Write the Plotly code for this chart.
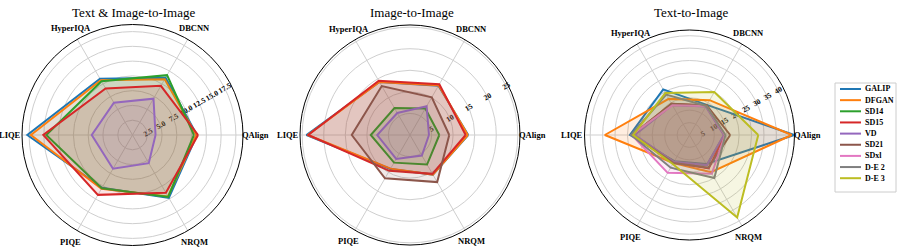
import math
import plotly.graph_objects as go

CATEGORIES = ["QAlign", "DBCNN", "HyperIQA", "LIQE", "PIQE", "NRQM"]
MODELS = ["GALIP", "DFGAN", "SD14", "SD15", "VD", "SD21", "SDxl", "D-E 2", "D-E 3"]
COLORS = ["#1f77b4", "#ff7f0e", "#2ca02c", "#d62728", "#9467bd",
          "#8c564b", "#e377c2", "#7f7f7f", "#bcbd22"]

TITLES = ["Text & Image-to-Image", "Image-to-Image", "Text-to-Image"]

# Text & Image-to-Image
TI2I = {
    "GALIP": [10.9, 11.2, 11.0, 17.8, 10.3, 12.3],
    "DFGAN": [10.8, 10.9, 10.7, 17.2, 10.5, 12.0],
    "SD14":  [10.4, 11.7, 10.5, 14.6, 10.4, 12.1],
    "SD15":  [11.1, 9.6, 9.1, 15.1, 11.7, 11.3],
    "VD":    [3.9, 7.1, 6.3, 6.9, 6.6, 5.5],
}
# Image-to-Image
I2I = {
    "GALIP": [13.5, 13.2, 14.2, 24.0, 9.1, 10.6],
    "DFGAN": [13.4, 13.3, 14.2, 23.7, 9.0, 10.6],
    "SD14":  [6.8, 7.1, 7.2, 9.1, 7.4, 7.9],
    "SD15":  [12.9, 13.6, 14.5, 23.6, 9.6, 10.4],
    "VD":    [4.4, 7.7, 5.9, 7.6, 6.4, 5.5],
    "SD21":  [9.1, 10.1, 13.1, 13.5, 11.6, 12.6],
}
# Text-to-Image
T2I = {
    "GALIP": [42.2, 14.0, 21.2, 24.0, 12.2, 13.5],
    "DFGAN": [41.2, 16.2, 16.8, 34.1, 13.0, 17.3],
    "SD14":  [14.0, 13.5, 14.0, 22.5, 12.5, 14.0],
    "SD15":  [14.2, 13.6, 14.5, 23.0, 12.8, 15.5],
    "VD":    [13.8, 13.2, 14.0, 22.0, 12.5, 14.0],
    "SD21":  [16.4, 13.8, 14.5, 23.0, 13.0, 15.2],
    "SDxl":  [14.3, 13.5, 13.8, 23.3, 17.6, 18.0],
    "D-E 2": [14.5, 13.5, 18.8, 23.5, 15.2, 20.0],
    "D-E 3": [27.7, 20.0, 19.5, 22.7, 13.5, 38.4],
}

R_TICKS_1 = [2.5, 5.0, 7.5, 10.0, 12.5, 15.0, 17.5]
R_TEXT_1 = ["2.5", "5.0", "7.5", "10.0", "12.5", "15.0", "17.5"]
R_TICKS_2 = [5, 10, 15, 20, 25]
R_TEXT_2 = ["5", "10", "15", "20", "25"]
R_TICKS_3 = [5, 10, 15, 20, 25, 30, 35, 40]
R_TEXT_3 = ["5", "10", "15", "20", "25", "30", "35", "40"]

R_MAX = [18.7, 25.5, 42.3]

W, H = 897, 247
FONT = "Liberation Serif, Times New Roman, serif"
FILL_ALPHA = 0.13


def rgba(hexc, a):
    h = hexc.lstrip("#")
    r, g, b = int(h[0:2], 16), int(h[2:4], 16), int(h[4:6], 16)
    return f"rgba({r},{g},{b},{a})"


fig = go.Figure()
datasets = [TI2I, I2I, T2I]
polars = ["polar", "polar2", "polar3"]
for i, data in enumerate(datasets):
    for m, c in zip(MODELS, COLORS):
        if m not in data:
            continue
        vals = data[m]
        fig.add_trace(go.Scatterpolar(
            r=vals + vals[:1],
            theta=CATEGORIES + CATEGORIES[:1],
            mode="lines",
            fill="toself",
            fillcolor=rgba(c, FILL_ALPHA),
            line=dict(color=c, width=2),
            name=m,
            legendgroup=m,
            showlegend=False,
            subplot=polars[i],
        ))

# subplot boxes in pixels: (cx, cy, radius)
boxes = [(132.5, 135, 110.5), (410, 135, 110), (689.5, 135, 105)]
ticks = [(R_TICKS_1, R_TEXT_1), (R_TICKS_2, R_TEXT_2), (R_TICKS_3, R_TEXT_3)]

annotations = []
layout_polars = {}
for i, (cx, cy, rad) in enumerate(boxes):
    xd = [(cx - rad) / W, (cx + rad) / W]
    yd = [1 - (cy + rad) / H, 1 - (cy - rad) / H]
    tv, tt = ticks[i]
    layout_polars[polars[i]] = dict(
        domain=dict(x=xd, y=yd),
        bgcolor="white",
        radialaxis=dict(
            range=[0, R_MAX[i]],
            tickvals=tv,
            ticktext=tt,
            angle=30,
            tickangle=0,
            showline=False,
            ticks="",
            gridcolor="#cfcfcf",
            gridwidth=1,
            layer="below traces",
            tickfont=dict(family=FONT, size=7.5, color="black", weight="bold"),
        ),
        angularaxis=dict(
            rotation=0,
            direction="counterclockwise",
            categoryorder="array",
            categoryarray=CATEGORIES,
            showline=True,
            linecolor="black",
            linewidth=1,
            gridcolor="#cfcfcf",
            gridwidth=1,
            ticks="",
            showticklabels=False,
            layer="below traces",
        ),
    )
    # category labels centred just outside the rim (matplotlib-style placement)
    n = len(CATEGORIES)
    for k, cat in enumerate(CATEGORIES):
        ang = math.radians(360.0 * k / n)
        lx = cx + (rad + 12.5) * math.cos(ang)
        ly = cy - (rad + 12.5) * math.sin(ang)
        annotations.append(dict(
            text=cat, x=lx / W, y=1 - ly / H, xref="paper", yref="paper",
            showarrow=False, xanchor="center", yanchor="middle",
            font=dict(family=FONT, size=8.5, color="black", weight="bold"),
        ))

title_x = [133, 412, 691]
for t, x in zip(TITLES, title_x):
    annotations.append(dict(
        text=t, x=x / W, y=1 - 13 / H, xref="paper", yref="paper",
        showarrow=False, xanchor="center", yanchor="middle",
        font=dict(family=FONT, size=13, color="black"),
    ))

# hand-built legend (compact row spacing like the reference)
shapes = []
LEG_X0, LEG_X1, LEG_Y0, LEG_Y1 = 835, 896, 83, 192
shapes.append(dict(type="rect", xref="paper", yref="paper",
                   x0=LEG_X0 / W, x1=LEG_X1 / W,
                   y0=1 - LEG_Y1 / H, y1=1 - LEG_Y0 / H,
                   line=dict(color="#cccccc", width=1), fillcolor="white",
                   layer="above"))
for k, (m, c) in enumerate(zip(MODELS, COLORS)):
    yy = 89 + 11.15 * k
    shapes.append(dict(type="line", xref="paper", yref="paper",
                       x0=840 / W, x1=861 / W, y0=1 - yy / H, y1=1 - yy / H,
                       line=dict(color=c, width=2), layer="above"))
    annotations.append(dict(
        text=m, x=863 / W, y=1 - yy / H, xref="paper", yref="paper",
        showarrow=False, xanchor="left", yanchor="middle",
        font=dict(family=FONT, size=8, color="black", weight="bold"),
    ))

fig.update_layout(
    width=W, height=H,
    margin=dict(l=0, r=0, t=0, b=0, autoexpand=False),
    paper_bgcolor="white",
    plot_bgcolor="white",
    showlegend=False,
    annotations=annotations,
    shapes=shapes,
    **layout_polars,
)

fig.write_html("out.html", config={"displayModeBar": False},
               post_script="document.body.style.margin='0px';")
